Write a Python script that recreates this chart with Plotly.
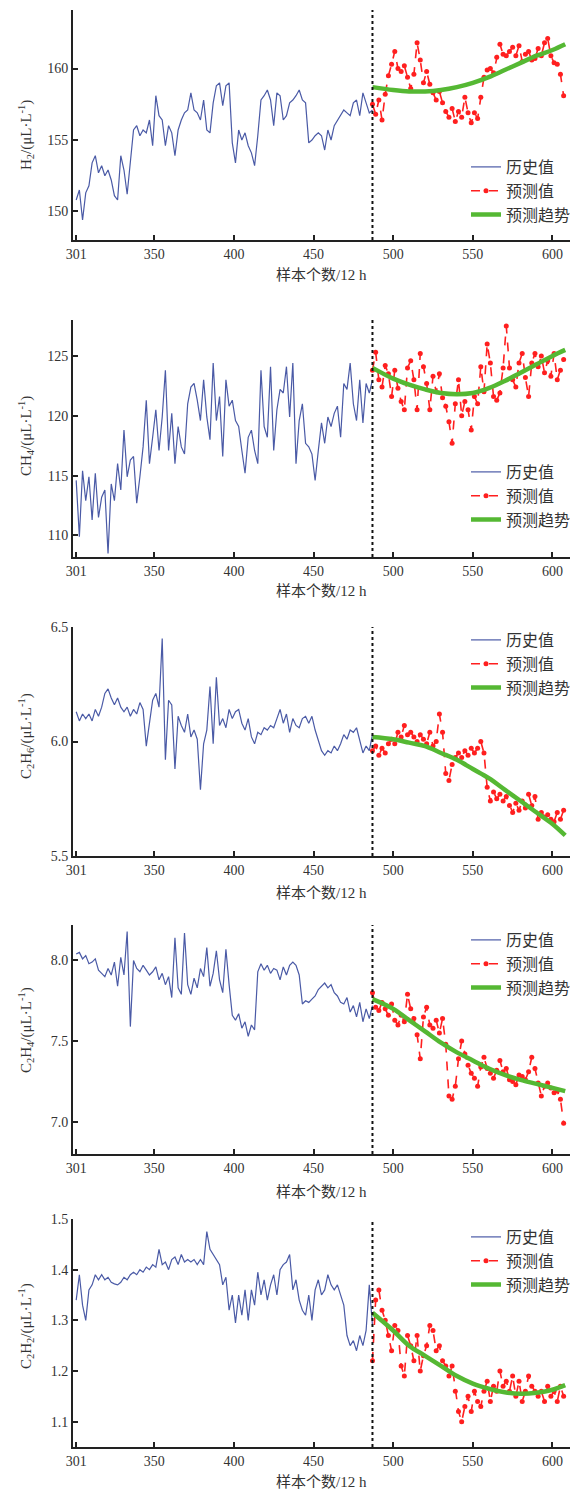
import plotly.graph_objects as go

# ---------------- data ----------------
x_hist = list(range(301, 488, 2))
x_pred = list(range(487, 608, 2))
x_trend = [487, 500, 510, 520, 530, 540, 550, 560, 570, 580, 590, 600, 608]
x_ticks = [301, 350, 400, 450, 500, 550, 600]

h2_hist = [150.8, 151.5, 149.4, 151.3, 151.8, 153.4, 153.9, 152.7, 153.2, 152.5,
           152.9, 152.2, 151.1, 150.8, 153.9, 152.9, 151.2, 153.6, 155.7, 156.0,
           155.3, 155.7, 155.5, 156.4, 154.6, 158.1, 156.7, 156.4, 154.6, 156.0,
           155.5, 153.9, 155.7, 156.4, 156.9, 157.1, 158.3, 157.1, 156.9, 156.4,
           157.8, 155.7, 155.5, 157.6, 158.8, 159.0, 157.4, 158.8, 159.0, 154.8,
           153.4, 155.7, 155.0, 155.5, 154.6, 154.1, 153.2, 155.3, 157.8, 158.1,
           158.5, 157.8, 156.0, 158.3, 158.1, 156.4, 156.7, 157.6, 157.8, 158.1,
           158.5, 157.8, 157.6, 154.8, 155.0, 155.3, 155.5, 155.3, 154.3, 155.7,
           155.0, 156.0, 156.4, 156.7, 157.1, 156.9, 156.7, 157.6, 157.8, 156.7,
           158.3, 157.6, 156.9, 157.1]
h2_pred = [157.5, 156.8, 157.8, 156.4, 158.2, 159.5, 160.3, 161.2, 160.0, 159.8,
           160.2, 159.4, 158.6, 159.6, 161.8, 160.6, 159.0, 159.8, 158.9, 158.3,
           157.8, 158.4, 157.6, 157.0, 156.6, 157.2, 156.3, 157.0, 156.6, 158.0,
           156.9, 156.2, 156.9, 156.5, 158.0, 159.4, 159.9, 160.0, 159.7, 160.8,
           161.7, 161.0, 160.9, 161.2, 161.5, 160.9, 161.6, 160.5, 161.0, 161.2,
           160.6, 160.7, 161.4, 160.9, 161.8, 162.1, 160.9, 160.4, 160.3, 159.6,
           158.1]
h2_trend = [158.7, 158.5, 158.4, 158.4, 158.5, 158.7, 159.0, 159.4, 159.9, 160.4, 160.9, 161.3, 161.7]

ch4_hist = [114.6, 109.9, 115.4, 112.9, 114.9, 111.3, 115.2, 111.5, 113.2, 113.8,
            108.5, 114.3, 112.9, 116.0, 113.8, 118.8, 114.9, 116.3, 116.6, 112.7,
            114.9, 117.4, 121.3, 116.0, 118.2, 120.5, 117.1, 119.9, 123.8, 117.1,
            120.2, 116.0, 119.1, 117.4, 116.8, 121.0, 122.4, 122.7, 121.3, 119.6,
            123.0, 119.9, 118.0, 124.4, 119.6, 121.6, 116.6, 123.0, 120.8, 121.3,
            119.6, 119.1, 117.1, 115.2, 118.2, 118.8, 117.1, 116.0, 123.8, 119.1,
            118.2, 124.1, 117.1, 120.5, 122.2, 121.9, 124.1, 119.9, 124.4, 116.0,
            119.6, 121.0, 117.7, 117.4, 116.8, 114.6, 117.1, 119.4, 117.7, 119.9,
            119.1, 120.2, 120.8, 118.2, 122.7, 122.2, 124.4, 121.0, 119.6, 123.0,
            119.4, 122.7, 121.9, 123.0]
ch4_pred = [123.8, 125.3, 123.0, 122.4, 124.2, 123.5, 121.6, 123.8, 122.3, 121.2,
            120.5, 124.0, 124.6, 123.0, 120.5, 125.2, 124.1, 122.7, 120.5, 123.3,
            122.0, 123.5, 121.5, 120.8, 119.5, 117.7, 121.0, 123.0, 120.0, 121.2,
            120.5, 118.8, 121.6, 121.0, 124.1, 122.0, 126.0, 124.4, 121.6, 121.3,
            121.9, 124.0, 127.5, 124.0, 123.0, 122.4, 124.4, 125.2, 123.2, 121.6,
            124.4, 125.2, 124.1, 125.0, 123.6, 124.6, 123.3, 125.2, 123.0, 123.8,
            124.7]
ch4_trend = [124.0, 123.1, 122.6, 122.2, 121.9, 121.8, 121.9, 122.3, 122.9, 123.6, 124.3, 125.0, 125.5]

c2h6_hist = [6.13, 6.09, 6.12, 6.10, 6.12, 6.09, 6.14, 6.11, 6.15, 6.21,
             6.23, 6.19, 6.16, 6.19, 6.15, 6.13, 6.15, 6.11, 6.14, 6.12,
             6.17, 6.14, 5.98, 6.07, 6.18, 6.21, 6.15, 6.45, 5.92, 6.18,
             6.16, 5.88, 6.11, 6.07, 6.04, 6.12, 6.02, 6.05, 6.01, 5.79,
             5.99, 6.05, 6.24, 5.99, 6.28, 6.07, 6.10, 6.06, 6.14, 6.10,
             6.13, 6.14, 6.08, 6.05, 6.10, 6.02, 5.99, 6.04, 6.03, 6.06,
             6.05, 6.07, 6.06, 6.10, 6.14, 6.08, 6.12, 6.04, 6.10, 6.07,
             6.06, 6.10, 6.11, 6.08, 6.11, 6.05, 6.00, 5.96, 5.94, 5.96,
             5.95, 5.98, 5.96, 5.99, 6.03, 6.01, 6.05, 6.04, 6.06, 6.01,
             5.95, 5.98, 5.96, 6.03]
c2h6_pred = [5.96, 5.98, 5.94, 5.97, 5.95, 5.99, 6.01, 5.99, 6.04, 6.02,
             6.07, 6.03, 6.04, 6.02, 6.00, 6.03, 6.01, 5.99, 6.04, 5.98,
             6.00, 6.12, 6.04, 5.86, 5.83, 5.90, 5.93, 5.95, 5.93, 5.96,
             5.94, 5.97, 5.95, 5.97, 6.00, 5.95, 5.80, 5.74, 5.78, 5.75,
             5.77, 5.74, 5.76, 5.72, 5.69, 5.73, 5.70, 5.74, 5.71, 5.77,
             5.72, 5.76, 5.66, 5.69, 5.67, 5.68, 5.66, 5.65, 5.69, 5.66,
             5.70]
c2h6_trend = [6.02, 6.01, 5.995, 5.98, 5.95, 5.92, 5.88, 5.84, 5.79, 5.74, 5.69, 5.64, 5.59]

c2h4_hist = [8.04, 8.05, 8.01, 8.03, 7.98, 7.99, 8.01, 7.94, 7.92, 7.90,
             7.95, 7.91, 7.99, 7.84, 8.02, 7.91, 8.18, 7.59, 8.00, 7.95,
             7.93, 7.97, 7.94, 7.91, 7.93, 7.96, 7.88, 7.92, 7.85, 7.90,
             7.77, 8.14, 7.83, 7.79, 8.17, 7.85, 7.79, 7.89, 7.83, 7.95,
             7.90, 8.08, 7.84, 7.92, 8.06, 7.88, 7.80, 8.07, 7.85, 7.66,
             7.63, 7.67, 7.58, 7.62, 7.53, 7.60, 7.57, 7.93, 7.98, 7.94,
             7.97, 7.92, 7.95, 7.94, 7.88, 7.96, 7.91, 7.97, 7.99, 7.97,
             7.91, 7.73, 7.75, 7.74, 7.76, 7.78, 7.82, 7.84, 7.86, 7.83,
             7.85, 7.80, 7.78, 7.74, 7.73, 7.77, 7.68, 7.72, 7.65, 7.74,
             7.62, 7.70, 7.64, 7.72]
c2h4_pred = [7.80, 7.71, 7.69, 7.74, 7.70, 7.66, 7.73, 7.63, 7.60, 7.66,
             7.62, 7.79, 7.70, 7.64, 7.54, 7.39, 7.65, 7.71, 7.60, 7.58,
             7.63, 7.55, 7.64, 7.48, 7.16, 7.14, 7.22, 7.39, 7.50, 7.42,
             7.35, 7.30, 7.27, 7.22, 7.34, 7.40, 7.33, 7.30, 7.27, 7.32,
             7.38, 7.31, 7.33, 7.26, 7.25, 7.23, 7.29, 7.28, 7.26, 7.31,
             7.40, 7.33, 7.24, 7.16, 7.22, 7.24, 7.21, 7.18, 7.19, 7.14,
             6.99]
c2h4_trend = [7.76, 7.70, 7.63, 7.56, 7.49, 7.43, 7.38, 7.33, 7.29, 7.26, 7.235, 7.21, 7.19]

c2h2_hist = [1.34, 1.39, 1.33, 1.30, 1.36, 1.37, 1.39, 1.38, 1.39, 1.38,
             1.385, 1.375, 1.372, 1.37, 1.375, 1.385, 1.38, 1.39, 1.395, 1.39,
             1.40, 1.395, 1.405, 1.40, 1.41, 1.405, 1.44, 1.41, 1.415, 1.40,
             1.42, 1.425, 1.41, 1.43, 1.415, 1.42, 1.415, 1.42, 1.41, 1.42,
             1.41, 1.475, 1.44, 1.43, 1.42, 1.41, 1.37, 1.385, 1.32, 1.35,
             1.295, 1.35, 1.31, 1.36, 1.30, 1.36, 1.33, 1.395, 1.35, 1.38,
             1.34, 1.37, 1.39, 1.35, 1.40, 1.41, 1.415, 1.43, 1.36, 1.38,
             1.34, 1.32, 1.31, 1.35, 1.30, 1.36, 1.38, 1.35, 1.36, 1.39,
             1.37, 1.36, 1.37, 1.35, 1.33, 1.27, 1.25, 1.26, 1.24, 1.27,
             1.25, 1.28, 1.37, 1.29]
c2h2_pred = [1.22, 1.34, 1.36, 1.32, 1.30, 1.27, 1.24, 1.29, 1.28, 1.21,
             1.19, 1.27, 1.25, 1.22, 1.27, 1.20, 1.23, 1.25, 1.29, 1.28,
             1.24, 1.25, 1.22, 1.21, 1.19, 1.21, 1.16, 1.12, 1.10, 1.13,
             1.15, 1.12, 1.16, 1.14, 1.13, 1.16, 1.18, 1.14, 1.17, 1.16,
             1.20, 1.17, 1.18, 1.16, 1.19, 1.15, 1.18, 1.14, 1.16, 1.19,
             1.17, 1.16, 1.15, 1.16, 1.14, 1.17, 1.15, 1.16, 1.14, 1.17,
             1.15]
c2h2_trend = [1.315, 1.28, 1.25, 1.23, 1.21, 1.19, 1.175, 1.165, 1.158, 1.155, 1.157, 1.163, 1.172]

split_x = 487
legend_names = ["历史值", "预测值", "预测趋势"]
x_title = "样本个数/12 h"

panels = [
    dict(hist=h2_hist, pred=h2_pred, trend=h2_trend,
         ylabel="H<sub>2</sub>/(μL·L<sup>-1</sup>)", yrange=[148.0, 164.1],
         yticks=[150, 155, 160], fmt="d",
         top=10, bottom=240, xt_y=275, leg_top=150, ylab_c=135),
    dict(hist=ch4_hist, pred=ch4_pred, trend=ch4_trend,
         ylabel="CH<sub>4</sub>/(μL·L<sup>-1</sup>)", yrange=[108.2, 128.0],
         yticks=[110, 115, 120, 125], fmt="d",
         top=320, bottom=557, xt_y=591, leg_top=455, ylab_c=436),
    dict(hist=c2h6_hist, pred=c2h6_pred, trend=c2h6_trend,
         ylabel="C<sub>2</sub>H<sub>6</sub>/(μL·L<sup>-1</sup>)", yrange=[5.5, 6.5],
         yticks=[5.5, 6.0, 6.5], fmt=".1f",
         top=627, bottom=856, xt_y=893, leg_top=623, ylab_c=736),
    dict(hist=c2h4_hist, pred=c2h4_pred, trend=c2h4_trend,
         ylabel="C<sub>2</sub>H<sub>4</sub>/(μL·L<sup>-1</sup>)", yrange=[6.80, 8.22],
         yticks=[7.0, 7.5, 8.0], fmt=".1f",
         top=925, bottom=1154, xt_y=1192, leg_top=923, ylab_c=1030),
    dict(hist=c2h2_hist, pred=c2h2_pred, trend=c2h2_trend,
         ylabel="C<sub>2</sub>H<sub>2</sub>/(μL·L<sup>-1</sup>)", yrange=[1.05, 1.50],
         yticks=[1.1, 1.2, 1.3, 1.4, 1.5], fmt=".1f",
         top=1219, bottom=1447, xt_y=1482, leg_top=1220, ylab_c=1326),
]

# ---------------- figure ----------------
W, H = 580, 1491
X_LEFT, X_RIGHT = 73, 570
SERIF = "Liberation Serif, Times New Roman, serif"
CJK = "Liberation Serif, Noto Sans CJK SC, serif"

fig = go.Figure()
layout = dict(width=W, height=H, autosize=False,
              margin=dict(l=0, r=0, t=0, b=0, autoexpand=False),
              paper_bgcolor="white", plot_bgcolor="white",
              shapes=[], annotations=[])

for i, p in enumerate(panels, start=1):
    xa = "x" if i == 1 else f"x{i}"
    ya = "y" if i == 1 else f"y{i}"
    leg = "legend" if i == 1 else f"legend{i}"

    fig.add_trace(go.Scatter(x=x_hist, y=p["hist"], mode="lines", name=legend_names[0],
                             line=dict(color="#4a5aa6", width=1.2),
                             xaxis=xa, yaxis=ya, legend=leg))
    fig.add_trace(go.Scatter(x=x_pred, y=p["pred"], mode="lines+markers", name=legend_names[1],
                             line=dict(color="#ff1f1f", width=1.6, dash="dash"),
                             marker=dict(color="#ff1f1f", size=5, symbol="circle"),
                             xaxis=xa, yaxis=ya, legend=leg))
    fig.add_trace(go.Scatter(x=x_trend, y=p["trend"], mode="lines", name=legend_names[2],
                             line=dict(color="#55b833", width=4.5, shape="spline"),
                             xaxis=xa, yaxis=ya, legend=leg))

    y0 = 1 - p["bottom"] / H
    y1 = 1 - p["top"] / H
    layout[f"xaxis{'' if i == 1 else i}"] = dict(
        domain=[X_LEFT / W, X_RIGHT / W], range=[299, 611], anchor=ya, automargin=False,
        tickvals=x_ticks, ticks="inside", ticklen=5, tickwidth=1.5, tickcolor="#222",
        showline=True, linecolor="#222", linewidth=2, mirror=False,
        showgrid=False, zeroline=False,
        tickfont=dict(family=SERIF, size=14, color="#333"))
    layout[f"yaxis{'' if i == 1 else i}"] = dict(
        domain=[y0, y1], range=p["yrange"], anchor=xa, automargin=False,
        tickvals=p["yticks"], tickformat=p["fmt"], ticks="inside", ticklen=5,
        tickwidth=1.5, tickcolor="#222",
        showline=True, linecolor="#222", linewidth=2, mirror=False,
        showgrid=False, zeroline=False,
        tickfont=dict(family=SERIF, size=14, color="#333"))

    layout["shapes"].append(dict(type="line", xref=xa, yref=f"{ya} domain",
                                 x0=split_x, x1=split_x, y0=0, y1=1,
                                 line=dict(color="#111", width=2, dash="dot")))

    layout["annotations"].append(dict(text=x_title, xref="paper", yref="paper",
                                      x=(X_LEFT + X_RIGHT) / 2 / W, y=1 - p["xt_y"] / H,
                                      xanchor="center", yanchor="middle", showarrow=False,
                                      font=dict(family=CJK, size=15, color="#333")))
    layout["annotations"].append(dict(text=p["ylabel"], xref="paper", yref="paper",
                                      x=26 / W, y=1 - p["ylab_c"] / H, textangle=-90,
                                      xanchor="center", yanchor="middle", showarrow=False,
                                      font=dict(family=SERIF, size=15, color="#333")))

    layout[leg] = dict(x=466 / W, y=1 - p["leg_top"] / H, xanchor="left", yanchor="top",
                       bgcolor="rgba(0,0,0,0)", borderwidth=0, tracegroupgap=0,
                       itemwidth=30,
                       font=dict(family="Noto Sans CJK SC, sans-serif", size=16, color="#333"))

fig.update_layout(**layout)
fig.write_html("out.html",
               config={"displayModeBar": False},
               post_script="document.body.style.margin='0px';document.body.style.overflow='hidden';")
